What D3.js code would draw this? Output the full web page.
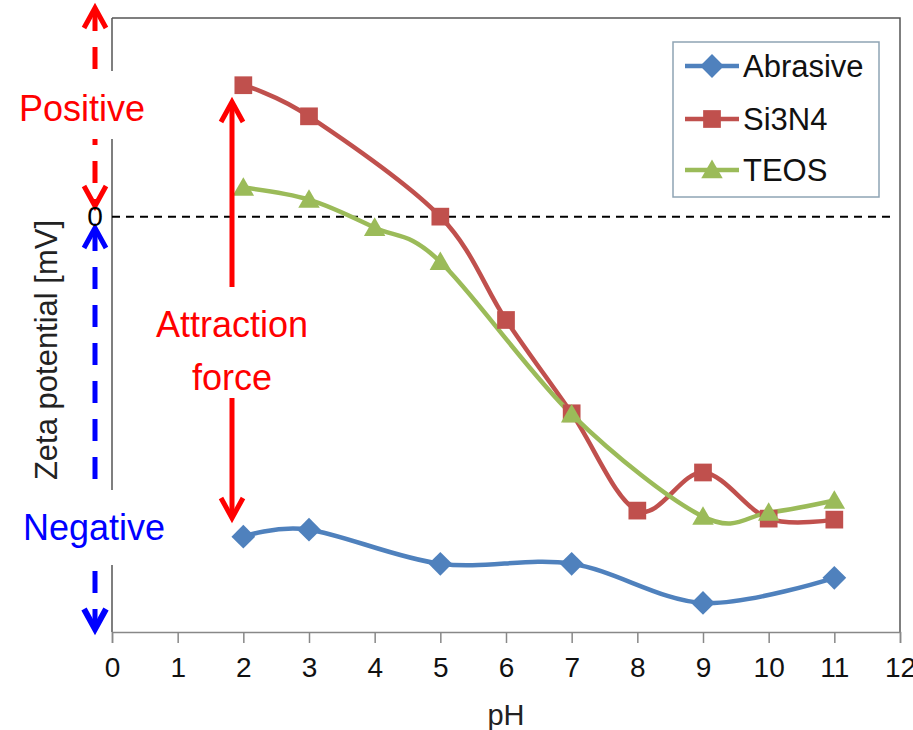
<!DOCTYPE html>
<html>
<head>
<meta charset="utf-8">
<script src="https://cdn.jsdelivr.net/npm/d3@7"></script>
<style>
  body { margin: 0; background: #fff; }
  text { font-family: "Liberation Sans", Arial, sans-serif; }
</style>
</head>
<body>
<div id="chart-area"></div>
<script>
const width = 913;
const height = 730;

// data (zeta potential, arbitrary mV scale)
const phTicks = [0, 1, 2, 3, 4, 5, 6, 7, 8, 9, 10, 11, 12];
const abrasivePH = [2, 3, 5, 7, 9, 11];
const abrasiveZeta = [-31.9, -31.2, -34.6, -34.6, -38.5, -36.0];
const si3n4PH = [2, 3, 5, 6, 7, 8, 9, 10, 11];
const si3n4Zeta = [13.1, 10.0, 0, -10.3, -19.6, -29.3, -25.5, -30.1, -30.2];
const teosPH = [2, 3, 4, 5, 7, 9, 10, 11];
const teosZeta = [2.9, 1.7, -1.1, -4.5, -19.7, -29.9, -29.5, -28.3];
const seriesNames = ["Abrasive", "Si3N4", "TEOS"];
const colors = ["#4f81bd", "#c0504d", "#9bbb59"];
const symbols = [d3.symbolDiamond2, d3.symbolSquare2, d3.symbolTriangle2];
const symbolSizes = [360, 400, 330];

const series = [
  { name: seriesNames[0], pts: abrasivePH.map((x, i) => ({ x, y: abrasiveZeta[i] })) },
  { name: seriesNames[1], pts: si3n4PH.map((x, i) => ({ x, y: si3n4Zeta[i] })) },
  { name: seriesNames[2], pts: teosPH.map((x, i) => ({ x, y: teosZeta[i] })) }
];

const plot = { left: 112, right: 900, top: 18, bottom: 632 };

const x = d3.scaleLinear().domain([0, 12]).range([plot.left, plot.right]);
const y = d3.scaleLinear().domain([-41.4, 19.8]).range([plot.bottom, plot.top]);

const svg = d3.select("#chart-area")
  .append("svg")
    .attr("width", width)
    .attr("height", height);

// frame (top + right)
svg.append("path")
  .attr("d", `M${plot.left},${plot.top} H${plot.right} V${plot.bottom}`)
  .attr("fill", "none")
  .attr("stroke", "#555")
  .attr("stroke-width", 1.5);

// left axis line
svg.append("line")
  .attr("x1", plot.left).attr("x2", plot.left)
  .attr("y1", plot.top).attr("y2", plot.bottom)
  .attr("stroke", "#555")
  .attr("stroke-width", 1.5);

// bottom axis
const xAxis = svg.append("g")
  .attr("transform", `translate(0,${plot.bottom})`)
  .call(d3.axisBottom(x).tickValues(phTicks).tickFormat(d3.format("d")).tickSize(11).tickPadding(14));
xAxis.select(".domain").attr("stroke", "#888").attr("stroke-width", 1.5);
xAxis.selectAll(".tick line").attr("stroke", "#888").attr("stroke-width", 1.5);
xAxis.selectAll(".tick text")
  .attr("fill", "#111")
  .style("font-size", "28px")
  .style("font-family", "Liberation Sans, Arial, sans-serif");

// zero line
svg.append("line")
  .attr("x1", plot.left).attr("x2", 890)
  .attr("y1", y(0)).attr("y2", y(0))
  .attr("stroke", "#000")
  .attr("stroke-width", 2)
  .attr("stroke-dasharray", "8,6");

// series lines (Excel-style smoothing)
const line = d3.line()
  .x(d => x(d.x))
  .y(d => y(d.y))
  .curve(d3.curveCardinal.tension(0));

svg.selectAll(".series")
  .data(series)
  .enter()
  .append("path")
    .attr("class", "series")
    .attr("d", d => line(d.pts))
    .attr("fill", "none")
    .attr("stroke", (d, i) => colors[i])
    .attr("stroke-width", 4.5);

series.forEach((s, i) => {
  svg.selectAll(".m" + i)
    .data(s.pts)
    .enter()
    .append("path")
      .attr("class", "m" + i)
      .attr("transform", d => `translate(${x(d.x)},${y(d.y) + (i === 2 ? 2 : 0)})`)
      .attr("d", d3.symbol().type(symbols[i]).size(symbolSizes[i]))
      .attr("fill", colors[i]);
});

// legend
const legend = svg.append("g");
legend.append("rect")
  .attr("x", 673).attr("y", 42)
  .attr("width", 206).attr("height", 155)
  .attr("fill", "#fff")
  .attr("stroke", "#8ea4b4")
  .attr("stroke-width", 1.5);

const legY = [66, 119, 170];
seriesNames.forEach((name, i) => {
  legend.append("line")
    .attr("x1", 685).attr("x2", 739)
    .attr("y1", legY[i]).attr("y2", legY[i])
    .attr("stroke", colors[i])
    .attr("stroke-width", 4.5);
  legend.append("path")
    .attr("transform", `translate(712,${legY[i] + (i === 2 ? 2 : 0)})`)
    .attr("d", d3.symbol().type(symbols[i]).size(symbolSizes[i]))
    .attr("fill", colors[i]);
  legend.append("text")
    .attr("x", 743)
    .attr("y", legY[i] + 11)
    .style("font-size", "31px")
    .attr("fill", "#111")
    .text(name);
});

// axis titles
svg.append("text")
  .attr("x", 506).attr("y", 725)
  .attr("text-anchor", "middle")
  .style("font-size", "29px")
  .attr("fill", "#222")
  .text("pH");

svg.append("text")
  .attr("transform", "translate(57,350) rotate(-90)")
  .attr("text-anchor", "middle")
  .style("font-size", "31px")
  .attr("fill", "#222")
  .text("Zeta potential [mV]");

// arrows
const chevron = (g, cx, tip, dir, color, w) => {
  const s = dir === "up" ? 1 : -1;
  g.append("path")
    .attr("d", `M${cx - 11},${tip + s * 20} L${cx},${tip} L${cx + 11},${tip + s * 20}`)
    .attr("fill", "none")
    .attr("stroke", color)
    .attr("stroke-width", w);
};

const arrows = svg.append("g");

// red dashed (positive)
arrows.append("line")
  .attr("x1", 95).attr("x2", 95).attr("y1", 9).attr("y2", 205)
  .attr("stroke", "#ff0000").attr("stroke-width", 5)
  .attr("stroke-dasharray", "22,16");
chevron(arrows, 95, 8, "up", "#ff0000", 5);
chevron(arrows, 95, 206, "down", "#ff0000", 5);

// blue dashed (negative)
arrows.append("line")
  .attr("x1", 95).attr("x2", 95).attr("y1", 229).attr("y2", 628)
  .attr("stroke", "#0000ff").attr("stroke-width", 5)
  .attr("stroke-dasharray", "22,16");
chevron(arrows, 95, 228, "up", "#0000ff", 5);
chevron(arrows, 95, 629, "down", "#0000ff", 6);

// red solid (attraction force)
arrows.append("line")
  .attr("x1", 232).attr("x2", 232).attr("y1", 103).attr("y2", 287)
  .attr("stroke", "#ff0000").attr("stroke-width", 5);
chevron(arrows, 232, 102, "up", "#ff0000", 5);
arrows.append("line")
  .attr("x1", 232).attr("x2", 232).attr("y1", 398).attr("y2", 517)
  .attr("stroke", "#ff0000").attr("stroke-width", 5);
chevron(arrows, 232, 518, "down", "#ff0000", 5);

// labels with white backgrounds
svg.append("rect").attr("x", 12).attr("y", 71).attr("width", 140).attr("height", 68).attr("fill", "#fff");
svg.append("text")
  .attr("x", 82).attr("y", 121)
  .attr("text-anchor", "middle")
  .style("font-size", "36px")
  .attr("fill", "#ff0000")
  .text("Positive");

svg.append("rect").attr("x", 14).attr("y", 490).attr("width", 158).attr("height", 75).attr("fill", "#fff");
svg.append("text")
  .attr("x", 94).attr("y", 540)
  .attr("text-anchor", "middle")
  .style("font-size", "36px")
  .attr("fill", "#0000ff")
  .text("Negative");

svg.append("text")
  .attr("x", 232).attr("y", 337)
  .attr("text-anchor", "middle")
  .style("font-size", "36px")
  .attr("fill", "#ff0000")
  .text("Attraction");
svg.append("text")
  .attr("x", 232).attr("y", 390)
  .attr("text-anchor", "middle")
  .style("font-size", "36px")
  .attr("fill", "#ff0000")
  .text("force");

svg.append("text")
  .attr("x", 95).attr("y", 226)
  .attr("text-anchor", "middle")
  .style("font-size", "28px")
  .attr("fill", "#000")
  .text("0");
</script>
</body>
</html>
